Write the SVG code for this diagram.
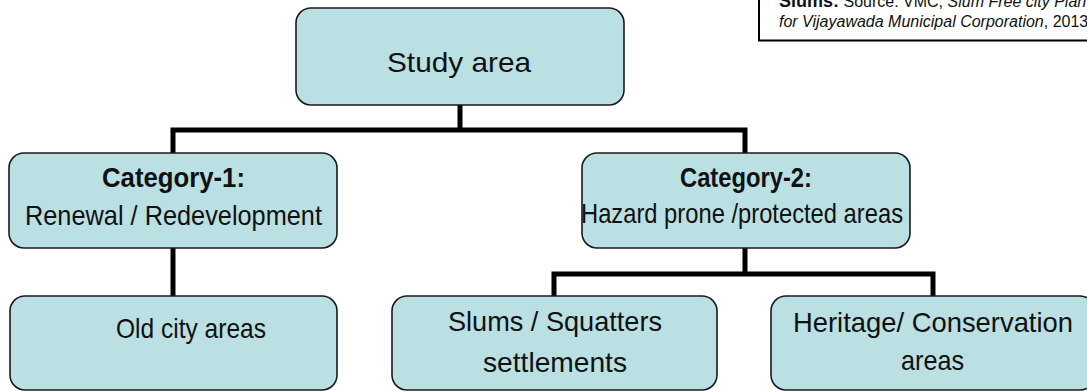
<svg xmlns="http://www.w3.org/2000/svg" width="1087" height="391" viewBox="0 0 1087 391">
<style>
.box{fill:#BAE0E3;stroke:#1a1a1a;stroke-width:1.6}
.t{font-family:"Liberation Sans",Arial,sans-serif;fill:#111;font-size:28px}
.b{font-weight:bold}
.conn{fill:none;stroke:#000;stroke-width:5;stroke-linejoin:miter;stroke-linecap:butt}
.note{font-family:"Liberation Sans",Arial,sans-serif;fill:#111;font-size:16px}
</style>
<rect width="1087" height="391" fill="#fff"/>
<g id="source-note">
<rect x="759" y="-10" width="340" height="50.5" fill="#fff" stroke="#000" stroke-width="2"/>
<text class="note" x="779" y="7"><tspan font-weight="bold" font-size="18">Slums:</tspan> Source: VMC, <tspan font-style="italic">Slum Free city Plan of</tspan></text>
<text class="note" x="779" y="27"><tspan font-style="italic">for Vijayawada Municipal Corporation</tspan>, 2013</text>
</g>
<g id="connectors">
<path class="conn" d="M460 105V130M173 153V130H745V153"/>
<path class="conn" d="M173 248V296"/>
<path class="conn" d="M745 248V274M554 296V274H933V296"/>
</g>
<g id="study-area">
<rect class="box" x="296" y="8" width="328" height="97" rx="15"/>
<text class="t" x="387" y="72" font-size="30" textLength="144" lengthAdjust="spacingAndGlyphs">Study area</text>
</g>
<g id="category-1">
<rect class="box" x="9" y="153" width="328" height="95" rx="15"/>
<text class="t b" x="102" y="187" textLength="143" lengthAdjust="spacingAndGlyphs">Category-1:</text>
<text class="t" x="25" y="225" textLength="297" lengthAdjust="spacingAndGlyphs">Renewal / Redevelopment</text>
</g>
<g id="category-2">
<rect class="box" x="582" y="153" width="328" height="95" rx="15"/>
<text class="t b" x="680" y="187" font-size="27" textLength="132" lengthAdjust="spacingAndGlyphs">Category-2:</text>
<text class="t" x="581" y="223" font-size="27" textLength="322" lengthAdjust="spacingAndGlyphs">Hazard prone /protected areas</text>
</g>
<g id="old-city">
<rect class="box" x="10" y="296" width="327" height="94" rx="15"/>
<text class="t" x="116" y="338" font-size="32" textLength="150" lengthAdjust="spacingAndGlyphs">Old city areas</text>
</g>
<g id="slums">
<rect class="box" x="392" y="296" width="325" height="94" rx="15"/>
<text class="t" x="448" y="331" textLength="214" lengthAdjust="spacingAndGlyphs">Slums / Squatters</text>
<text class="t" x="483" y="372" textLength="144" lengthAdjust="spacingAndGlyphs">settlements</text>
</g>
<g id="heritage">
<rect class="box" x="771" y="296" width="324" height="94" rx="15"/>
<text class="t" x="793" y="332" textLength="280" lengthAdjust="spacingAndGlyphs">Heritage/ Conservation</text>
<text class="t" x="901" y="370" textLength="63" lengthAdjust="spacingAndGlyphs">areas</text>
</g>
</svg>
